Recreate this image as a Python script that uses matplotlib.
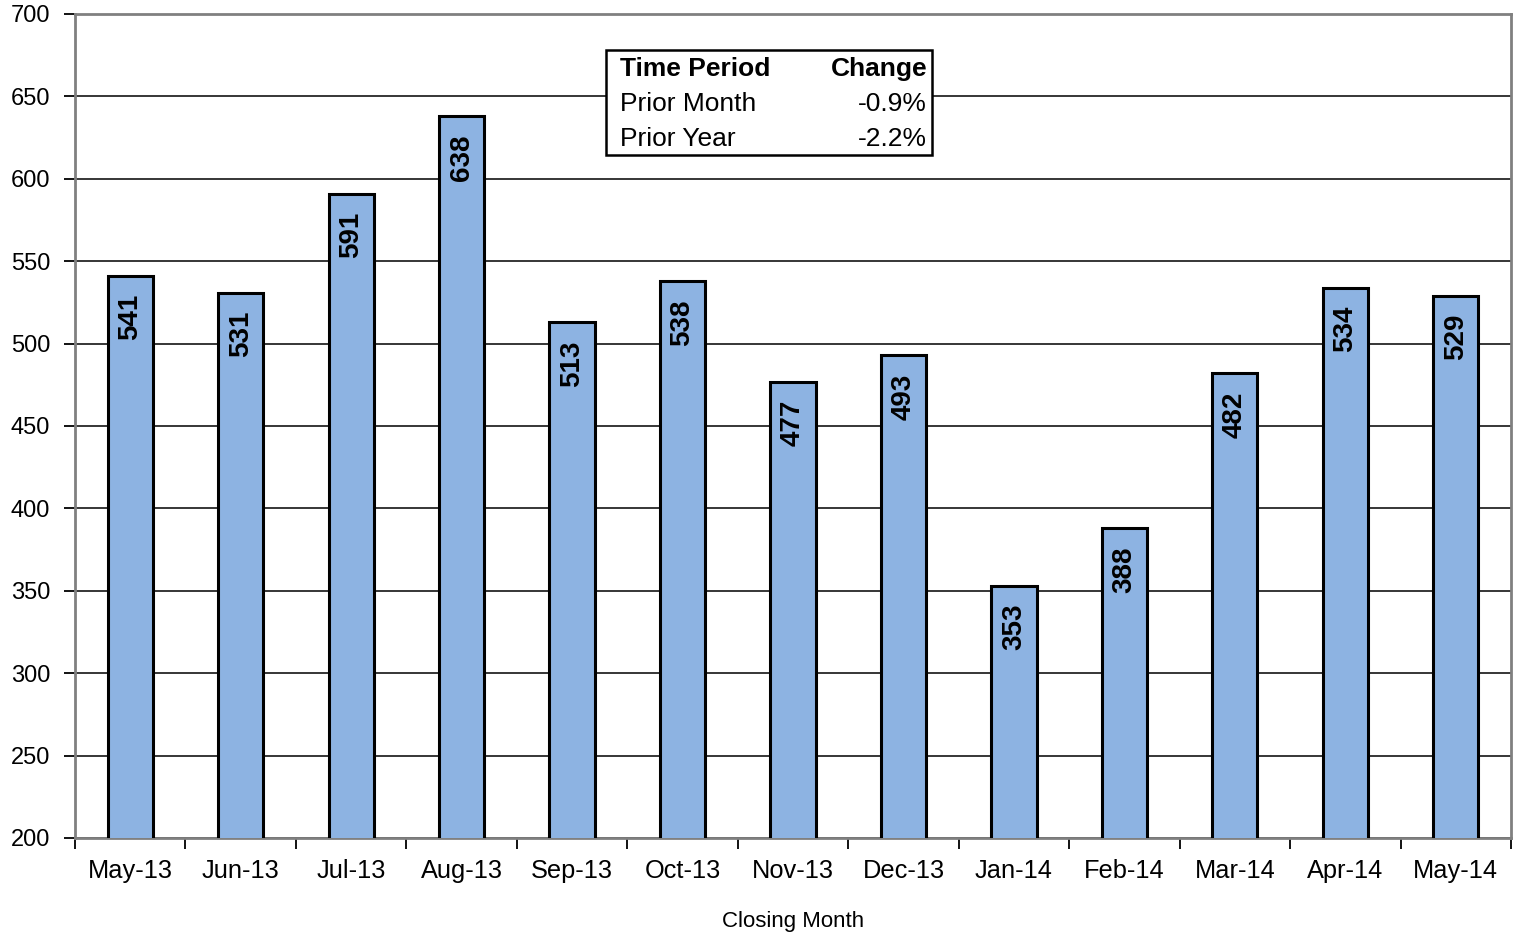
import matplotlib
matplotlib.use("Agg")
import matplotlib.pyplot as plt
from matplotlib.patches import Rectangle
import numpy as np

months = ['May-13', 'Jun-13', 'Jul-13', 'Aug-13', 'Sep-13', 'Oct-13', 'Nov-13',
          'Dec-13', 'Jan-14', 'Feb-14', 'Mar-14', 'Apr-14', 'May-14']
sales = [541, 531, 591, 638, 513, 538, 477, 493, 353, 388, 482, 534, 529]

table_header = ['Time Period', 'Change']
table_periods = ['Prior Month', 'Prior Year']
table_changes = ['-0.9%', '-2.2%']

plt.rcParams['font.family'] = ['Liberation Sans', 'DejaVu Sans']

W, H = 1513, 934
fig = plt.figure(figsize=(W / 100, H / 100), dpi=100)
ax = fig.add_axes([75 / W, 1 - 838 / H, (1511 - 75) / W, (838 - 14) / H])

x = np.arange(len(months))
ax.bar(x, sales, width=0.41, color='#8DB3E2', edgecolor='black',
       linewidth=2.2, zorder=3)

for xi, v in zip(x, sales):
    ax.text(xi, v - 11, str(v), rotation=90, ha='center', va='top',
            fontsize=20, fontweight='bold', zorder=4)

ax.set_xlim(-0.5, len(months) - 0.5)
ax.set_ylim(200, 700)
ax.set_yticks(np.arange(200, 701, 50))
ax.yaxis.grid(True, color='black', linewidth=1.1, zorder=0)
ax.set_axisbelow(True)

ax.set_xticks(x)
ax.set_xticklabels(months, fontsize=18.3)
ax.set_xticks(np.arange(-0.5, len(months), 1), minor=True)
ax.tick_params(axis='x', which='major', length=0, pad=15)
ax.tick_params(axis='x', which='minor', length=8, width=1.3, color='black')
ax.tick_params(axis='y', labelsize=17, length=8, width=1.3, pad=10)

for s in ax.spines.values():
    s.set_color('#808080')
    s.set_linewidth(2)

ax.set_xlabel('Closing Month', fontsize=16, labelpad=20)

# summary table box
fig.patches.append(Rectangle((606 / W, 1 - 155 / H), (932 - 606) / W, (155 - 50) / H,
                             transform=fig.transFigure, facecolor='white',
                             edgecolor='black', linewidth=1.8, zorder=5))
rows_y = [69, 104, 139]
fig.text(620 / W, 1 - rows_y[0] / H, table_header[0], fontsize=19, fontweight='bold',
         va='center', ha='left', zorder=6)
fig.text(927 / W, 1 - rows_y[0] / H, table_header[1], fontsize=19, fontweight='bold',
         va='center', ha='right', zorder=6)
for yy, p, c in zip(rows_y[1:], table_periods, table_changes):
    fig.text(620 / W, 1 - yy / H, p, fontsize=19, va='center', ha='left', zorder=6)
    fig.text(927 / W, 1 - yy / H, c, fontsize=19, va='center', ha='right', zorder=6)

fig.savefig('out.png', dpi=100)
